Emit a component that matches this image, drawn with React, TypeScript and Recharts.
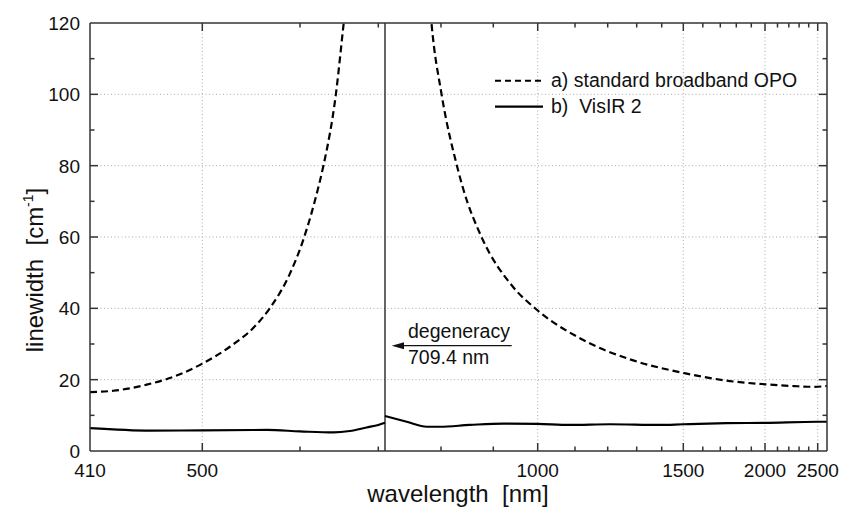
import React from 'react';
import { LineChart, Line, XAxis, YAxis, ReferenceLine } from 'recharts';

// linewidth [cm-1] vs wavelength [nm]; signal branch left of degeneracy, idler branch right
const dashedSignalNm = [410, 426, 451, 479, 500, 525, 548, 565, 588, 604, 620, 627, 642, 651.5, 659];
const dashedSignalLw = [16.5, 16.9, 18.6, 21.5, 24.5, 29.3, 34.6, 40.0, 49.8, 59.5, 73.2, 80.2, 100, 119, 134];
const dashedIdlerNm = [777, 783, 801, 828, 840, 876, 942, 1000, 1114, 1275, 1500, 1759, 2005, 2250, 2450, 2610];
const dashedIdlerLw = [132, 120, 100, 80.0, 73.3, 59.8, 46.0, 39.4, 31.6, 25.7, 21.9, 19.6, 18.7, 18.2, 18.0, 18.2];
const solidSignalNm = [410, 454, 500, 562, 600, 639, 660, 683, 700, 709.4];
const solidSignalLw = [6.4, 5.7, 5.8, 5.9, 5.5, 5.2, 5.6, 6.6, 7.3, 7.9];
const solidIdlerNm = [709.4, 742, 775, 798, 852, 921, 1000, 1085, 1207, 1393, 1500, 1739, 2000, 2500, 2610];
const solidIdlerLw = [9.8, 8.2, 6.8, 6.8, 7.3, 7.7, 7.6, 7.3, 7.5, 7.3, 7.5, 7.8, 7.9, 8.2, 8.2];

const DEGENERACY_NM = 709.4;

const xLabels = [410, 500, 1000, 1500, 2000, 2500];
const xMajor = [500, 1000, 1500, 2000, 2500];
const xMinor = [600, 700, 800, 900, 1100, 1200, 1300, 1400, 1600, 1700, 1800, 1900, 2100, 2200, 2300, 2400];
const yTicks = [0, 10, 20, 30, 40, 50, 60, 70, 80, 90, 100, 110, 120];
const yLabels = [0, 20, 40, 60, 80, 100, 120];
const yGrid = [20, 40, 60, 80, 100];

// the printed wavelength axis is not linear, so the x axis runs on an internal
// 0..737 coordinate; these anchors (read off the tick marks) map nm onto it
const scaleNm = [410, 500, 600, 700, 709.4, 800, 900, 1000, 1100, 1200, 1300, 1400, 1500,
  1600, 1700, 1800, 1900, 2000, 2100, 2200, 2300, 2400, 2500, 2610];
const scalePos = [0, 112.3, 210, 288.3, 295, 351, 403.3, 447.7, 485, 517.7, 546.7, 571.7, 593.3,
  612.8, 630.3, 646.3, 661.3, 675, 687.5, 698.8, 709.1, 718.7, 727.7, 737];

function toPos(nm: number) {
  let i = 0;
  while (i < scaleNm.length - 2 && nm > scaleNm[i + 1]) i++;
  const a = scaleNm[i];
  const b = scaleNm[i + 1];
  const t = (1 / a - 1 / nm) / (1 / a - 1 / b);
  return scalePos[i] + t * (scalePos[i + 1] - scalePos[i]);
}

const rows = (nm: number[], lw: number[]) => nm.map((v, i) => ({ x: toPos(v), y: lw[i] }));

const AXIS = '#333';
const FONT = '"Liberation Sans", Arial, Helvetica, sans-serif';
const MAJOR = 8;
const MINOR = 4.5;

const xTickNm = [410, ...xMajor, ...xMinor].sort((a, b) => a - b);
const xTickPos = xTickNm.map(toPos);
const nmAt = (pos: number) => xTickNm[xTickPos.findIndex((p) => Math.abs(p - pos) < 1e-6)];

const BottomTick = ({ x, y, payload }: any) => {
  const nm = nmAt(payload.value);
  const len = xMajor.includes(nm) ? MAJOR : MINOR;
  return (
    <g>
      {nm !== 410 && <line x1={x} x2={x} y1={y} y2={y - len} stroke={AXIS} strokeWidth={1.5} />}
      {xLabels.includes(nm) && (
        <text x={x} y={y + 26} textAnchor="middle" fontSize={19} fontFamily={FONT} fill="#111">
          {nm}
        </text>
      )}
    </g>
  );
};

const TopTick = ({ x, y, payload }: any) => {
  const nm = nmAt(payload.value);
  if (nm === 410) return <g />;
  const len = xMajor.includes(nm) ? MAJOR : MINOR;
  return <line x1={x} x2={x} y1={y} y2={y + len} stroke={AXIS} strokeWidth={1.5} />;
};

const LeftTick = ({ x, y, payload }: any) => {
  const v = payload.value;
  const major = v % 20 === 0;
  return (
    <g>
      {v !== 0 && v !== 120 && (
        <line x1={x} x2={x + (major ? MAJOR : MINOR)} y1={y} y2={y} stroke={AXIS} strokeWidth={1.5} />
      )}
      {yLabels.includes(v) && (
        <text x={x - 10} y={y + 7} textAnchor="end" fontSize={19} fontFamily={FONT} fill="#111">
          {v}
        </text>
      )}
    </g>
  );
};

const RightTick = ({ x, y, payload }: any) => {
  const v = payload.value;
  if (v === 0 || v === 120) return <g />;
  const major = v % 20 === 0;
  return <line x1={x} x2={x - (major ? MAJOR : MINOR)} y1={y} y2={y} stroke={AXIS} strokeWidth={1.5} />;
};

const gridStyle = { stroke: '#aaa', strokeWidth: 1, strokeDasharray: '1 2.5' };

export default function App() {
  const degX = toPos(DEGENERACY_NM);
  return (
    <div style={{ position: 'absolute', left: 0, top: 0, width: 844, height: 514, background: '#fff' }}>
      <LineChart width={844} height={514} margin={{ top: 0, right: 0, bottom: 0, left: 0 }}>
        <XAxis
          xAxisId="b"
          type="number"
          dataKey="x"
          domain={[0, 737]}
          ticks={xTickPos}
          interval={0}
          tick={(p: any) => <BottomTick {...p} />}
          tickLine={false}
          tickSize={0}
          tickMargin={0}
          height={63}
          axisLine={{ stroke: AXIS, strokeWidth: 1.5 }}
          allowDataOverflow
        />
        <XAxis
          xAxisId="t"
          orientation="top"
          type="number"
          dataKey="x"
          domain={[0, 737]}
          ticks={xTickPos}
          interval={0}
          tick={(p: any) => <TopTick {...p} />}
          tickLine={false}
          tickSize={0}
          tickMargin={0}
          height={23}
          axisLine={{ stroke: AXIS, strokeWidth: 1.5 }}
          allowDataOverflow
        />
        <YAxis
          yAxisId="l"
          type="number"
          domain={[0, 120]}
          ticks={yTicks}
          interval={0}
          tick={(p: any) => <LeftTick {...p} />}
          tickLine={false}
          tickSize={0}
          tickMargin={0}
          width={90}
          axisLine={{ stroke: AXIS, strokeWidth: 1.5 }}
          allowDataOverflow
        />
        <YAxis
          yAxisId="r"
          orientation="right"
          type="number"
          domain={[0, 120]}
          ticks={yTicks}
          interval={0}
          tick={(p: any) => <RightTick {...p} />}
          tickLine={false}
          tickSize={0}
          tickMargin={0}
          width={17}
          axisLine={{ stroke: AXIS, strokeWidth: 1.5 }}
          allowDataOverflow
        />

        {yGrid.map((v) => (
          <ReferenceLine key={`gy${v}`} xAxisId="b" yAxisId="l" y={v} {...gridStyle} />
        ))}
        {xMajor.map((v) => (
          <ReferenceLine key={`gx${v}`} xAxisId="b" yAxisId="l" x={toPos(v)} {...gridStyle} />
        ))}
        <ReferenceLine xAxisId="b" yAxisId="l" x={degX} stroke={AXIS} strokeWidth={1.5} />

        <Line
          xAxisId="b" yAxisId="l" data={rows(dashedSignalNm, dashedSignalLw)} dataKey="y"
          type="monotone" stroke="#000" strokeWidth={2.2} strokeDasharray="7 4" dot={false}
          isAnimationActive={false}
        />
        <Line
          xAxisId="b" yAxisId="l" data={rows(dashedIdlerNm, dashedIdlerLw)} dataKey="y"
          type="monotone" stroke="#000" strokeWidth={2.2} strokeDasharray="7 4" dot={false}
          isAnimationActive={false}
        />
        <Line
          xAxisId="b" yAxisId="l" data={rows(solidSignalNm, solidSignalLw)} dataKey="y"
          type="monotone" stroke="#000" strokeWidth={2.2} dot={false} isAnimationActive={false}
        />
        <Line
          xAxisId="b" yAxisId="l" data={rows(solidIdlerNm, solidIdlerLw)} dataKey="y"
          type="monotone" stroke="#000" strokeWidth={2.2} dot={false} isAnimationActive={false}
        />
      </LineChart>

      <svg
        width={844}
        height={514}
        style={{ position: 'absolute', left: 0, top: 0, pointerEvents: 'none' }}
        fontFamily={FONT}
        fill="#111"
      >
        {/* legend */}
        <line x1={495} x2={543} y1={80.7} y2={80.7} stroke="#000" strokeWidth={2} strokeDasharray="6 4" />
        <text x={551} y={87.3} fontSize={19.5}>a) standard broadband OPO</text>
        <line x1={495} x2={543} y1={106.7} y2={106.7} stroke="#000" strokeWidth={2.2} />
        <text x={551} y={113.3} fontSize={19.5} style={{ whiteSpace: 'pre' }}>b)  VisIR 2</text>

        {/* degeneracy annotation */}
        <text x={408} y={337.7} fontSize={19.5}>degeneracy</text>
        <line x1={402} x2={511.7} y1={345.7} y2={345.7} stroke="#111" strokeWidth={1.3} />
        <polygon points="391.7,345.7 404,342.2 404,349.2" fill="#111" />
        <text x={408} y={364.3} fontSize={19.5}>709.4 nm</text>

        {/* axis titles */}
        <text x={458} y={502} fontSize={24} textAnchor="middle" style={{ whiteSpace: 'pre' }}>
          wavelength  [nm]
        </text>
        <text
          transform="translate(43,270) rotate(-90)"
          fontSize={24}
          textAnchor="middle"
          style={{ whiteSpace: 'pre' }}
        >
          <tspan>linewidth  [cm</tspan>
          <tspan dy={-10} fontSize={14}>-1</tspan>
          <tspan dy={10}>]</tspan>
        </text>
      </svg>
    </div>
  );
}
